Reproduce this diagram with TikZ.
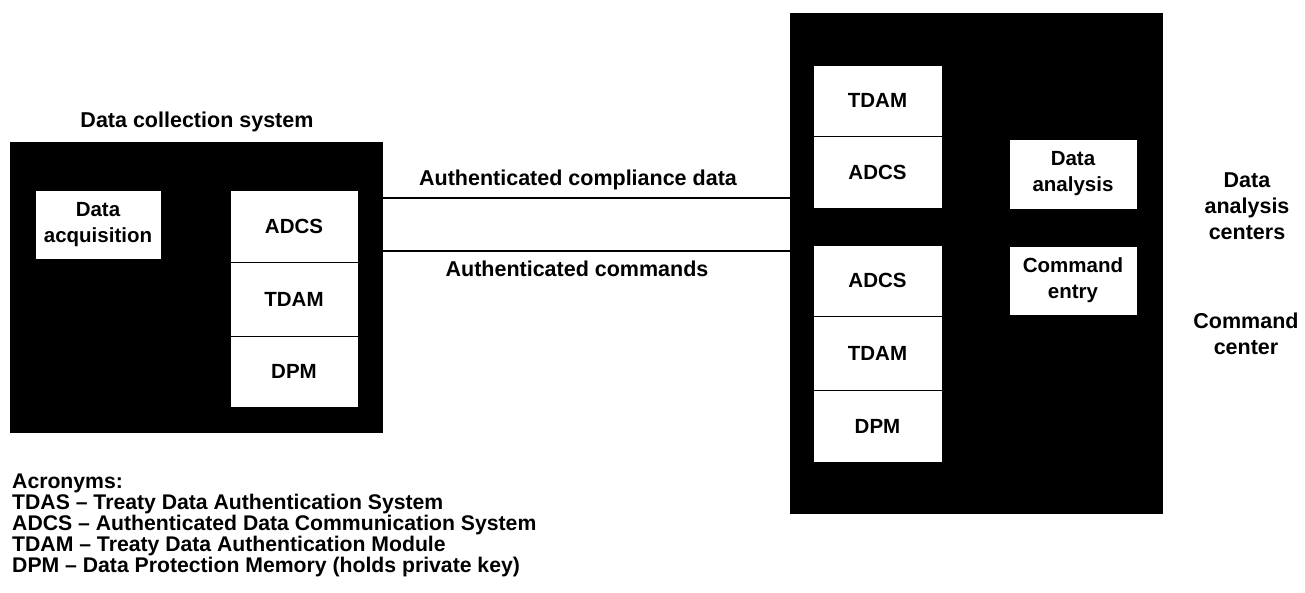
\documentclass[tikz,border=0pt]{standalone}
\usepackage{fontspec}
\setmainfont{Liberation Sans}
\begin{document}
\begin{tikzpicture}[x=1pt,y=-1pt,
  blk/.style={fill=black,draw=black,inner sep=0pt,outer sep=0pt},
  wbox/.style={fill=white,draw=black,line width=0.8pt,inner sep=0pt,outer sep=0pt,
    align=center,font=\fontsize{20.5}{26}\selectfont\bfseries},
  lbl/.style={inner sep=0pt,font=\fontsize{21.5}{26}\selectfont\bfseries,align=center},
  conn/.style={line width=2pt}]
\useasboundingbox (0,0) rectangle (1305,592);
\fill[white] (0,0) rectangle (1305,592);
% left system
\node[blk,minimum width=372pt,minimum height=290pt] (dcs) at (196,287) {};
\node[wbox,minimum width=126pt,minimum height=69pt] (acq) at (98,224.5) {Data\\acquisition};
\node[wbox,minimum width=128pt,minimum height=72pt] (ladcs) at (294,226) {ADCS};
\node[wbox,minimum width=128pt,minimum height=74pt] (ltdam) at (294,299) {TDAM};
\node[wbox,minimum width=128pt,minimum height=71pt] (ldpm) at (294,371.5) {DPM};
% right system
\node[blk,minimum width=372pt,minimum height=500pt] (dac) at (976,263) {};
\node[wbox,minimum width=129pt,minimum height=71pt] (rtdam) at (877.5,100.5) {TDAM};
\node[wbox,minimum width=129pt,minimum height=72pt] (radcs) at (877.5,172) {ADCS};
\node[wbox,minimum width=128pt,minimum height=70pt] (ana) at (1073,174) {Data\\analysis};
\node[wbox,minimum width=129pt,minimum height=71pt] (radcsb) at (877.5,280.5) {ADCS};
\node[wbox,minimum width=129pt,minimum height=74pt] (rtdamb) at (877.5,353) {TDAM};
\node[wbox,minimum width=129pt,minimum height=72pt] (rdpm) at (877.5,426) {DPM};
\node[wbox,minimum width=128pt,minimum height=69pt] (cmd) at (1073,280.5) {Command\\entry};
% connectors
\coordinate (y1) at (580,198);
\coordinate (y2) at (580,251);
\draw[conn] (dcs.east |- y1) -- (dac.west |- y1);
\draw[conn] (dcs.east |- y2) -- (dac.west |- y2);
% labels
\node[lbl,anchor=base] (ttl) at (197,127) {Data collection system};
\node[lbl,anchor=base] (l1) at (578,185) {Authenticated compliance data};
\node[lbl,anchor=base] (l2) at (577,276) {Authenticated commands};
\node[lbl,anchor=base] (dacl) at (1247,239) {Data\\analysis\\centers};
\node[lbl,anchor=base] (ccl) at (1246,354) {Command\\center};
\node[lbl,anchor=base west,align=left,font=\fontsize{21.2}{21}\selectfont\bfseries] (acr) at (12,572)
  {Acronyms:\\TDAS -- Treaty Data Authentication System\\ADCS -- Authenticated Data Communication System\\TDAM -- Treaty Data Authentication Module\\DPM -- Data Protection Memory (holds private key)};
\end{tikzpicture}
\end{document}
